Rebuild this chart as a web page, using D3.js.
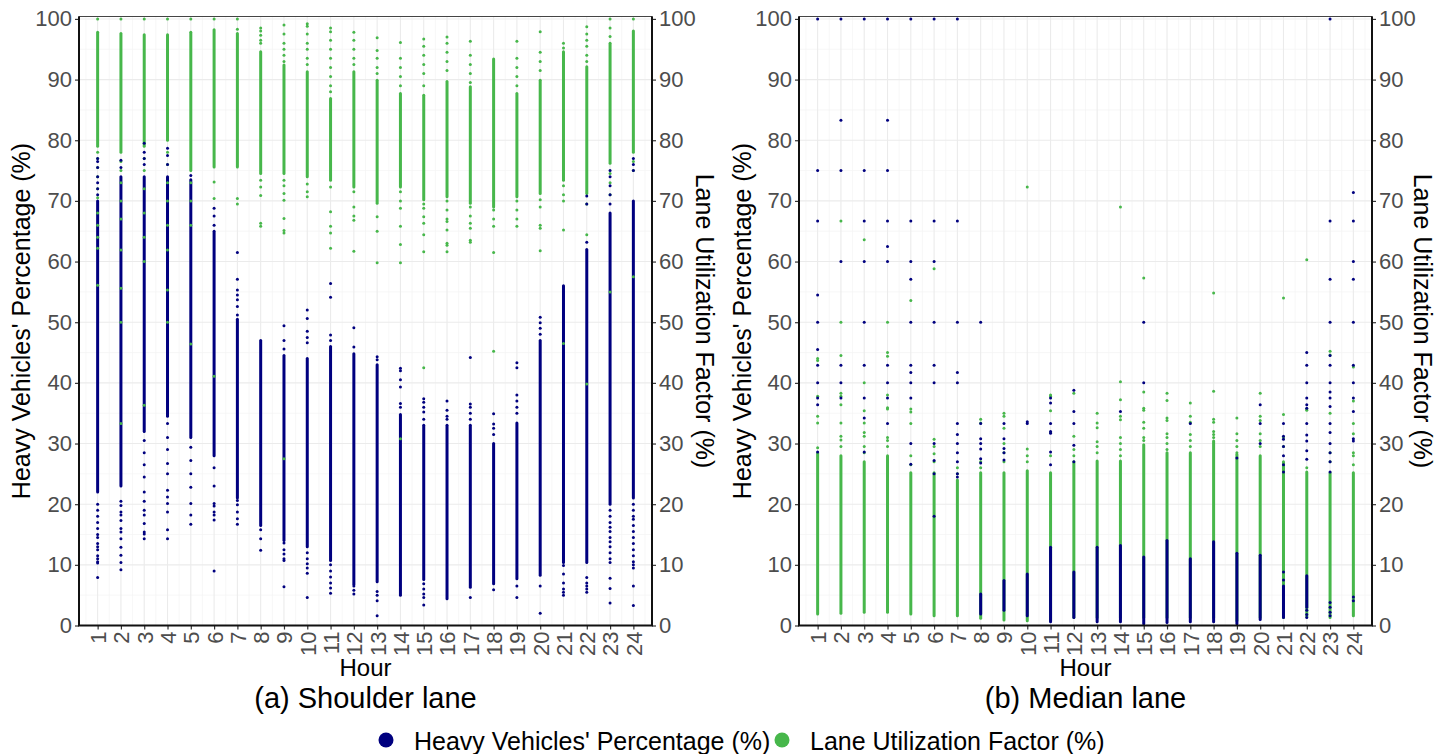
<!DOCTYPE html>
<html>
<head>
<script src="https://cdn.jsdelivr.net/npm/d3@7"></script>
<style>
  body { margin: 0; background: #fff; }
  svg text { font-family: "Liberation Sans", Arial, sans-serif; }
</style>
</head>
<body>
<svg id="chart" width="1455" height="754"></svg>
<script>
// ---- data ----
const hours = [1,2,3,4,5,6,7,8,9,10,11,12,13,14,15,16,17,18,19,20,21,22,23,24];
const hourLabels = ["1","2","3","4","5","6","7","8","9","10","11","12","13","14","15","16","17","18","19","20","21","22","23","24"];
const yTicks = [0,10,20,30,40,50,60,70,80,90,100];
const seriesNames = ["Heavy Vehicles' Percentage (%)", "Lane Utilization Factor (%)"];

// solid-looking runs of dots per hour: [low, high] (null = none)
const shoulderHvRuns = [[22,70],[23,74],[32,74],[34.5,74],[31,73.5],[28,65],[21,50.5],[16.5,47],[14,44.5],[13,44],[10.7,46],[6.8,44.8],
  [7.2,43],[5,34.8],[7.6,33],[4.4,33],[6.3,33],[6.9,30],[7.7,33.4],[8.3,47],[10.4,56],[10.4,62],[20,68],[21,70]];
const shoulderHvPts = [
  [77,76.5,75.5,74,73,72,71,20,19,18,17,16,15,14.5,13.5,13,12.5,11.5,11,10.5,10.3,7.9],
  [76.7,75.5,20.5,19.8,18.7,18.2,17.3,16,15.4,14.3,12.9,11.6,10.4,9.2],
  [79.5,78,77,76,30.5,28.5,26.5,24.5,22,20.5,19,18.2,16.8,15.4,15.1,14.3],
  [78.7,77.5,76,33.3,31,29,26.7,25,22.3,21.2,20.1,18.7,15.8,14.3],
  [74.2,29.4,27.2,25,22.8,20.1,18.2,16.7],
  [68.8,67.5,66,26,23,20.1,19.7,18.7,18.2,17.4,9],
  [61.5,57.1,55.3,54.5,53.7,52.6,51.2,20.6,19.9,18.7,17.6,16.7],
  [15.8,14.3,12.4],
  [49.4,47,45.6,13.6,12.5,11.8,11,10.7,6.4],
  [52,50.6,48.5,47.5,46.6,12,11,10.2,9.5,8.6,4.6],
  [56.4,54.1,47.9,47,10,9,8,7,6.2,5.3],
  [49.1,45.9,6.5,5.8,5.2],
  [44.3,43.8,5.6,5,4.1,1.6],
  [42.4,42,40.5,39.3,36.6,36],
  [37.4,36.8,36,35.2,34,6.9,6,5.2,4.6,3.4],
  [37,35.5,34.5,34],
  [44.2,36.5,36,35,34,4.6],
  [34.9,33.2,32.5,31.5,5.9],
  [43.3,42.5,38,37,36,35,6.5,4.6],
  [50.8,49.9,49,48,6.5,2],
  [9.9,8.5,7,6,5.5,5],
  [70.8,69.5,63.2,7.9,7,6.5,6,5.5],
  [75,74,72.5,71,69.5,19,18,17,16.2,15.5,14.5,13.8,13,12,11,10.4,7.8,6.1,3.7],
  [77,76,75,20,19,18,17.5,16.5,15.5,14.5,13.5,12.5,11.5,10.5,10,9.5,6.5,3.3]
];
const shoulderLufRuns = [[79,97.8],[78,97.6],[79,97.4],[80,97.4],[75,97.8],[75.6,98.2],[75.6,97.6],[74.5,94.6],[74.5,92.4],[74,91.3],[73.4,86.9],[72.3,91.3],
  [69.6,89.9],[72.3,87.7],[70.2,87.4],[70.7,89.7],[69.6,88.8],[69,93.4],[70.7,87.7],[71.2,89.9],[73.4,94.6],[71.2,92.1],[76.2,96],[78,98]];
const shoulderLufPts = [
  [100,78,77,75.5,74,72,70.5,68,66,64,62.2,56.1],
  [100,76.5,75,73,70,67,61.9,55.6,50,33.3],
  [100,77,75,72,68,64,60,36.3],
  [100,78,76,73,70,66,61.9,55.3,50],
  [100,73,70,66,46.4],
  [100,73.1,70.4,41.1],
  [100,98.3,70.4,69.5],
  [98.5,98,97.3,96.5,96,73.4,72.3,70.9,66.3,65.8],
  [99,97.5,96,95,94,93,73.4,72.5,71.2,70.1,67.1,65.1,64.7,27.5],
  [99.2,98.8,97.5,96,95,93.5,92.5,72.8,71.5,70.7],
  [98.5,97.9,96.5,95,93.5,92,90.5,89,88,72.3,68.2,65.8,64.7,62.2],
  [97.8,96.5,95,93.5,92.5,71.5,69,67.5,66.8,61.7],
  [96.9,94.8,93.5,92,91,67.4,65,59.8],
  [96.1,93.5,92,90.5,89,71.5,70,68.8,65.8,62.8,59.8,30.8],
  [96.7,95.5,94,92.5,91,89,69.5,68.8,67.4,66.3,64.4,61.6,42.5],
  [97,96,94.5,93,91.5,70,68.5,67,66.6,65.2,63,62.7,61.6],
  [96.3,94,92.5,91,89.5,69,67.5,66.3,65.5,63.5,63.2],
  [68.5,67,65.8,61.5,45.2],
  [96.3,93.5,92,90.5,89,70,68.5,67,65.8],
  [97.9,94.5,93,91.5,70.2,69,66,65.5,61.8],
  [96,95.2,72.5,71,70,65.2,46.5],
  [98.7,97.5,96.5,95.5,94,93,69.5,64.4,39.8],
  [100,98.5,97.1,74.5,73,71,55],
  [100,76.5,75,57.5]
];

const medianHvRuns = [null,null,null,null,null,null,null,[1.9,5.2],[2.5,7.4],[1.6,8.5],[0.6,12.9],[1.3,8.8],
  [0.6,12.9],[0.6,13.2],[0.3,11.3],[0.5,14],[0.6,11],[0.6,13.8],[0.3,11.9],[1,11.6],[1.3,6.5],[3,8.2],null,null];
const medianHvPts = [
  [100,75,66.7,54.5,50,45.5,42.9,40,37.5,36.4,28.6],
  [100,83.3,75,60,42.9,40,37.5],
  [100,75,66.7,60,50,42.9,37.5,34.2,28.6],
  [100,83.3,75,66.7,62.5,60,42.9,40,37.5,33.3],
  [100,66.7,60,57.1,50,42.9,41.7,40,37.5,30,26.6],
  [100,66.7,60,50,42.9,40,30,27.2,25,18],
  [100,66.7,50,41.7,40,33.3,31.5,30,28.5,27,25,24.5],
  [50,33.3,30.8,30,29.1,27.5,26.8],
  [33.3,30.8,29.2,28.5,27.3],
  [33.6,33.3],
  [37.5,36.7,33.3,32,31.7,28.6,26.5],
  [38.8,35.3,33.3,29.7,27],
  [],
  [35.3],
  [50,40],
  [],
  [33.3],
  [],
  [27.6],
  [36.4,33.3,30],
  [33.3,31.2,30.7,29.5,28,26.5,25.3,8.8,7.5],
  [45,42.9,40,37.5,36.4,35.8,33.3,31.4,30.4,28.8,27.4,2.5,1.8,1.3],
  [100,66.7,57.1,50,44.5,42.9,40,38.5,37.5,36.1,33.3,31.8,30,28.5,27,25.3,3.8,3,2.2,1.6],
  [71.4,66.7,60,57.1,50,42.9,40,37.5,35.3,30.8,30.4,4.7,4.1]
];
const medianLufRuns = [[1.9,28.5],[2,28],[2.2,27],[2.2,28],[1.9,25.2],[1.6,25.2],[1.6,24],[1.2,25.2],[0.9,25.2],[0.8,25.5],[0.8,25.2],[1.3,27],
  [1.3,27.1],[1.3,27.1],[1.3,29.8],[1.3,28.5],[1.3,28.5],[1.3,30.4],[0.8,28.2],[1.3,28],[1.3,27],[1.5,25.3],[1.3,25.2],[1.6,25.2]];
const medianLufPts = [
  [44,43.7,37.8,34.5,33.4,29.3],
  [66.7,50,44.5,38.3,37.8,36.4,33.4,31.2,30.6,29.5],
  [63.6,40,35.4,33.4,31.8,31.2,29.5,28.5],
  [50,45,44.4,38,35.9,35.7,31,30.5,29.5],
  [53.6,35.7,35.2,33.3,28,26.5],
  [58.8,30.7,29.5,28.3,27],
  [26,25],
  [34,33.4,27,26],
  [35,34.5,32.5,30,28.5,27],
  [72.3,29.1,28,27],
  [38,37.8,35.4,31.8,28],
  [38.3,31.2,29,28],
  [35,33.4,32.6,30.3,29.5,28.5],
  [69,40.2,37.2,34.5,33.9,31,30,29,28],
  [57.3,38.5,35.8,35.5,33.5,32.5,31,30.5],
  [38.3,37.1,34.2,33.8,31.6,31,30,29],
  [36.7,34.5,33.5,31.5,30.5,29.5],
  [54.8,38.6,34,33.5,32,31.5,31],
  [34.2,31.6,30.5,29.5,28.5],
  [38.3,34.5,33.8,31.6,30.5,29.5],
  [54,34.8,31,29.5],
  [60.3,35.7,35.5,26],
  [45.2,44.6,35,28.5,27],
  [42.6,37,33.3,31.6,28.5,28,26.5]
];

// ---- drawing ----
const navy = "#00007f";
const green = "#47b74b";
const svg = d3.select("#chart");

const panels = [
  {left: 79, right: 652, title: "(a) Shoulder lane", ltX: 30, rtX: 696,
   hvRuns: shoulderHvRuns, hvPts: shoulderHvPts, lufRuns: shoulderLufRuns, lufPts: shoulderLufPts},
  {left: 799, right: 1372, title: "(b) Median lane", ltX: 751, rtX: 1414,
   hvRuns: medianHvRuns, hvPts: medianHvPts, lufRuns: medianLufRuns, lufPts: medianLufPts}
];

function drawPanel(p) {
  const g = svg.append("g");
  const x = d3.scaleLinear().domain([0.2, 24.8]).range([p.left, p.right]);
  const y = d3.scaleLinear().domain([0, 100.4]).range([625.5, 16.5]);

  // grid
  const minorX = d3.range(0.5, 25, 1);
  const minorY = d3.range(5, 100, 10);
  g.append("g").selectAll("line").data(minorX).join("line")
    .attr("x1", d => x(d)).attr("x2", d => x(d)).attr("y1", y(100.4)).attr("y2", y(0))
    .attr("stroke", "#f3f3f3").attr("stroke-width", 0.7);
  g.append("g").selectAll("line").data(minorY).join("line")
    .attr("x1", p.left).attr("x2", p.right).attr("y1", d => y(d)).attr("y2", d => y(d))
    .attr("stroke", "#f3f3f3").attr("stroke-width", 0.7);
  g.append("g").selectAll("line").data(hours).join("line")
    .attr("x1", d => x(d)).attr("x2", d => x(d)).attr("y1", y(100.4)).attr("y2", y(0))
    .attr("stroke", "#ebebeb").attr("stroke-width", 1.1);
  g.append("g").selectAll("line").data(yTicks).join("line")
    .attr("x1", p.left).attr("x2", p.right).attr("y1", d => y(d)).attr("y2", d => y(d))
    .attr("stroke", "#ebebeb").attr("stroke-width", 1.1);

  const runsOf = runs => hours.flatMap((h, i) => runs[i] ? [{h, lo: runs[i][0], hi: runs[i][1]}] : []);
  const ptsOf = pts => hours.flatMap((h, i) => pts[i].map(v => ({h, v})));

  const drawRuns = (runs, color) => g.append("g").selectAll("rect").data(runsOf(runs)).join("rect")
    .attr("x", d => x(d.h) - 1.5).attr("width", 3)
    .attr("y", d => y(d.hi) - 1.5).attr("height", d => y(d.lo) - y(d.hi) + 3)
    .attr("rx", 1.5).attr("fill", color);
  const drawPts = (pts, color) => g.append("g").selectAll("circle").data(ptsOf(pts)).join("circle")
    .attr("cx", d => x(d.h)).attr("cy", d => y(d.v)).attr("r", 1.5).attr("fill", color);

  drawRuns(p.lufRuns, green);
  drawRuns(p.hvRuns, navy);
  drawPts(p.lufPts, green);
  drawPts(p.hvPts, navy);

  // frame
  g.append("rect").attr("x", p.left).attr("y", y(100.4)).attr("width", p.right - p.left)
    .attr("height", y(0) - y(100.4)).attr("fill", "none").attr("stroke", "#444").attr("stroke-width", 1);

  const styleAxis = a => {
    a.select(".domain").remove();
    a.selectAll("line").attr("stroke", "#333").attr("stroke-width", 1.2);
    a.selectAll("text").attr("fill", "#4d4d4d").attr("font-size", 22)
      .attr("font-family", "'Liberation Sans', Arial, sans-serif");
  };

  g.append("g").attr("transform", `translate(${p.left},0)`)
    .call(d3.axisLeft(y).tickValues(yTicks).tickSize(4).tickPadding(3)).call(styleAxis);
  g.append("g").attr("transform", `translate(${p.right},0)`)
    .call(d3.axisRight(y).tickValues(yTicks).tickSize(4).tickPadding(3)).call(styleAxis);
  g.append("g").attr("transform", `translate(0,${y(0)})`)
    .call(d3.axisBottom(x).tickValues(hours).tickSize(4).tickFormat((d, i) => hourLabels[i]))
    .call(styleAxis)
    .call(a => a.selectAll("text").attr("transform", "rotate(-90)")
      .attr("text-anchor", "end").attr("x", -6).attr("y", 0).attr("dy", "0.36em"));

  // axis lines
  g.append("path")
    .attr("d", `M${p.left},${y(100.4)}V${y(0)}H${p.right}V${y(100.4)}`)
    .attr("fill", "none").attr("stroke", "#111").attr("stroke-width", 2);

  const cx = (p.left + p.right) / 2, cy = (y(0) + y(100.4)) / 2;
  g.append("text").attr("x", cx).attr("y", 676).attr("text-anchor", "middle")
    .attr("font-size", 24).text("Hour");
  g.append("text").attr("x", cx).attr("y", 708).attr("text-anchor", "middle")
    .attr("font-size", 29).text(p.title);
  g.append("text").attr("transform", `translate(${p.ltX},${cy}) rotate(-90)`)
    .attr("text-anchor", "middle").attr("font-size", 25).text(seriesNames[0]);
  g.append("text").attr("transform", `translate(${p.rtX},${cy}) rotate(90)`)
    .attr("text-anchor", "middle").attr("font-size", 25).text(seriesNames[1]);
}

panels.forEach(drawPanel);

// legend
const legend = svg.append("g");
const legendItems = [{name: seriesNames[0], color: navy, x: 386}, {name: seriesNames[1], color: green, x: 782}];
legend.selectAll("circle").data(legendItems).join("circle")
  .attr("cx", d => d.x).attr("cy", 740).attr("r", 7.5).attr("fill", d => d.color);
legend.selectAll("text").data(legendItems).join("text")
  .attr("x", d => d.x + 28).attr("y", 750).attr("font-size", 25).text(d => d.name);
</script>
</body>
</html>
